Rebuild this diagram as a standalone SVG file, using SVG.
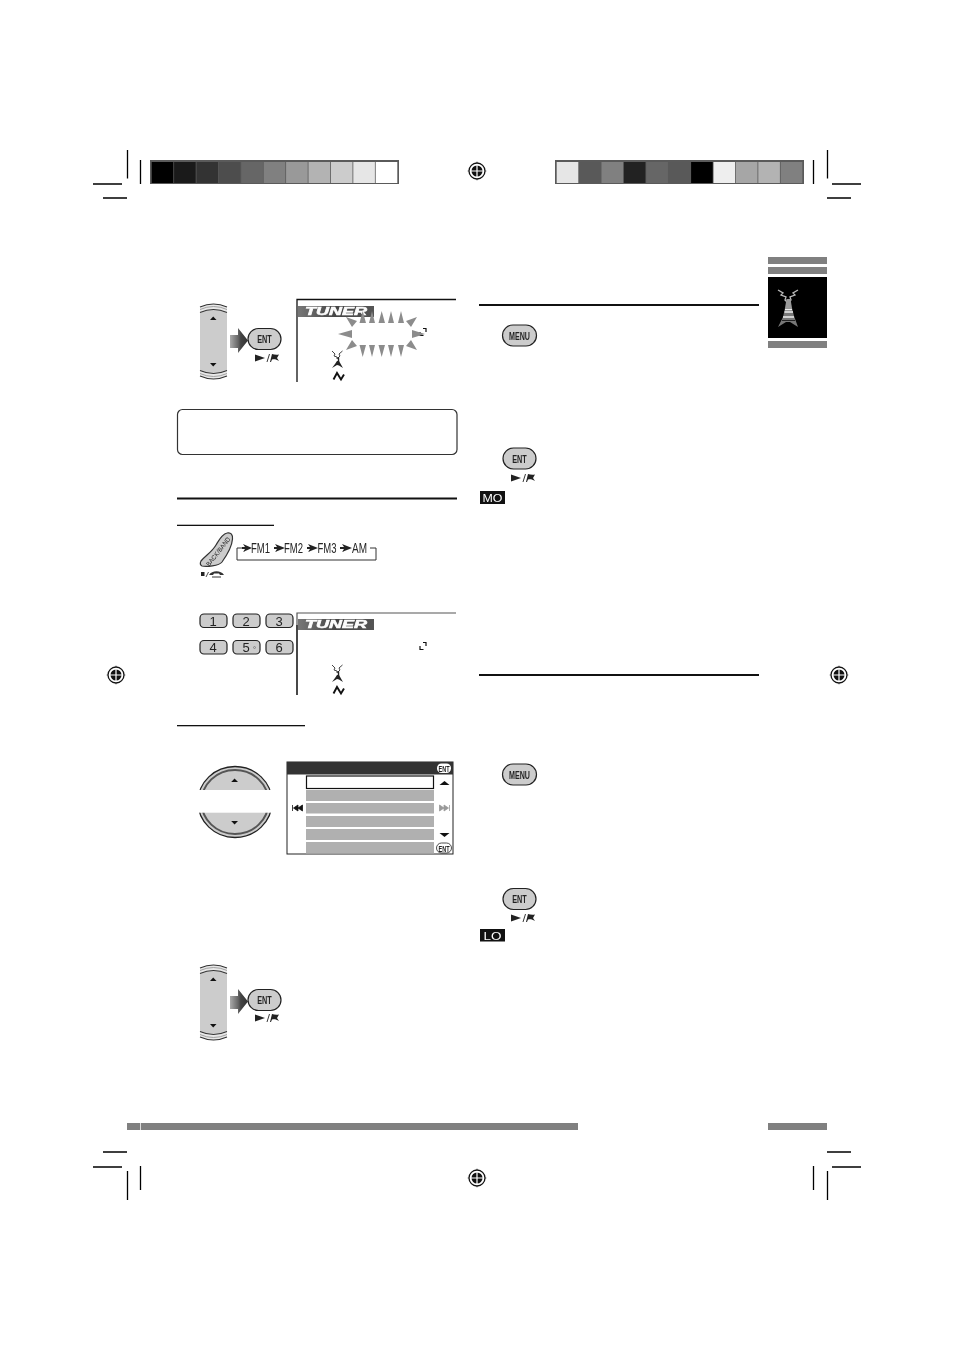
<svg xmlns="http://www.w3.org/2000/svg" xmlns:xlink="http://www.w3.org/1999/xlink" width="954" height="1350" viewBox="0 0 954 1350">
<style>
text{opacity:.99}
.k{stroke:#000;stroke-width:1.3;fill:none}
.bar{fill:#808080}
.t{font-family:"Liberation Sans",Arial,sans-serif;text-anchor:middle}
.b{font-weight:bold}
.key{fill:#ccc;stroke:#222;stroke-width:1.2}
.num{font-size:13px;fill:#222}
.flow{font-size:14.500px;fill:#222}
.tri{fill:#8c8c8c}
.row{fill:#b0b0b0}
</style>
<defs>
<linearGradient id="ag" x1="0" x2="1" y1="0" y2="0"><stop offset="0" stop-color="#aaa"/><stop offset="0.45" stop-color="#666"/><stop offset="0.6" stop-color="#444"/><stop offset="1" stop-color="#333"/></linearGradient>
<linearGradient id="tg" x1="0" x2="1" y1="0" y2="0"><stop offset="0" stop-color="#777"/><stop offset="0.5" stop-color="#444"/><stop offset="1" stop-color="#555"/></linearGradient>
<filter id="soft" x="-10%" y="-10%" width="120%" height="120%"><feGaussianBlur stdDeviation="0.5"/></filter>
<g id="reg">
<path d="M-9.500 0H9.500M0-9.500V9.500" stroke="#999" stroke-width="1"/>
<circle r="8" fill="#fff" stroke="#111" stroke-width="1.300"/>
<circle r="5.500" fill="#111"/>
<path d="M-6 0H6M0-6V6" stroke="#fff" stroke-width="1.200"/>
</g>
<g id="entkey">
<rect x="-16.500" y="-10.500" width="33" height="21" rx="10.500" fill="#ccc" stroke="#222" stroke-width="1.200"/>
<text class="t b" y="4" font-size="10.500" fill="#222" textLength="14.500" lengthAdjust="spacingAndGlyphs">ENT</text>
</g>
<g id="menukey">
<rect x="-17" y="-10.500" width="34" height="21" rx="10.500" fill="#ccc" stroke="#222" stroke-width="1.200"/>
<text class="t b" y="4" font-size="10.500" fill="#222" textLength="21" lengthAdjust="spacingAndGlyphs">MENU</text>
</g>
<g id="playflag" fill="#222">
<path d="M-9-3.500L1 0-9 3.500Z"/>
<path d="M3 4L5.500-4" stroke="#222" stroke-width="0.900"/>
<path d="M6 4L8-4C10-3.500 12-3 15-3.500L13 0 15 3C12 1 10 1 8 1.500L7 4Z"/>
</g>
<g id="rocker">
<rect x="200" y="307" width="27" height="69" fill="#ccc"/>
<path d="M200 307Q213.500 301 227 307V313Q213.500 307 200 313Z" fill="#e8e8e8"/>
<path d="M200 370Q213.500 376 227 370V376Q213.500 382 200 376Z" fill="#e8e8e8"/>
<path d="M200 307Q213.500 301 227 307M200 312.500Q213.500 306.500 227 312.500M200 376Q213.500 382 227 376M200 370.500Q213.500 376.500 227 370.500" fill="none" stroke="#333" stroke-width="1.100"/>
<path d="M200 309.500Q213.500 303.500 227 309.500M200 373.500Q213.500 379.500 227 373.500" fill="none" stroke="#999" stroke-width="0.900"/>
<path d="M210 320H216.500L213.200 316.500Z" fill="#111"/>
<path d="M210 363H216.500L213.200 366.500Z" fill="#111"/>
<path d="M230 335H238V328L248 340.500 238 353V348H230Z" fill="url(#ag)"/>
</g>
<g id="dispicons">
<path d="M332 351L335 354 334 356 337 357M342.500 351L339 354 340 356 338 358" fill="none" stroke="#444" stroke-width="1"/>
<path d="M336.500 358H338.500V362" stroke="#222" stroke-width="1.400" fill="none"/>
<path d="M337 361L339 361 343 368 339 365.500 337 365 332 368 335 364Z" fill="#222"/>
<path d="M333.500 379.500L337 373 341 379.500 344 374.500" fill="none" stroke="#111" stroke-width="1.900"/>
<path d="M420 332V335.500H423.500M423 328.500H426V332" fill="none" stroke="#111" stroke-width="1.200"/>
</g>
<g id="badge">
<rect x="298" y="306" width="76" height="11" fill="url(#tg)"/>
<text x="336" y="315" class="t b" font-size="10" fill="#fff" font-style="italic" textLength="62" lengthAdjust="spacingAndGlyphs" stroke="#fff" stroke-width="0.500">TUNER</text>
</g>
</defs>

<g id="print-marks">
<g class="k">
<path d="M127.500 150V178.500M140.500 160V184M93 184H122M103 198H127"/>
<path d="M813.500 160V184M827.500 150V178.500M832 184H861M827 198H851"/>
<path d="M103 1152H127M93 1167H122M140.500 1166V1190M127.500 1171V1200"/>
<path d="M827 1152H851M832 1167H861M813.500 1166V1190M827.500 1171V1200"/>
</g>
<use xlink:href="#reg" href="#reg" x="477" y="171"/>
<use xlink:href="#reg" href="#reg" x="477" y="1178"/>
<use xlink:href="#reg" href="#reg" x="116" y="675"/>
<use xlink:href="#reg" href="#reg" x="839" y="675"/>
</g>

<g id="colour-bar-left">
<rect x="150" y="160" width="249" height="24" fill="#5a5a5a"/>
<g>
<rect x="151.700" y="162" width="21.600" height="21" fill="#000"/>
<rect x="174.100" y="162" width="21.600" height="21" fill="#1a1a1a"/>
<rect x="196.500" y="162" width="21.600" height="21" fill="#333"/>
<rect x="218.900" y="162" width="21.600" height="21" fill="#4d4d4d"/>
<rect x="241.300" y="162" width="21.600" height="21" fill="#666"/>
<rect x="263.700" y="162" width="21.600" height="21" fill="#808080"/>
<rect x="286.100" y="162" width="21.600" height="21" fill="#999"/>
<rect x="308.500" y="162" width="21.600" height="21" fill="#b3b3b3"/>
<rect x="330.900" y="162" width="21.600" height="21" fill="#ccc"/>
<rect x="353.300" y="162" width="21.600" height="21" fill="#e6e6e6"/>
<rect x="375.700" y="162" width="21.600" height="21" fill="#fff"/>
</g>
</g>
<g id="colour-bar-right">
<rect x="555" y="160" width="249" height="24" fill="#5a5a5a"/>
<g>
<rect x="556.700" y="162" width="21.600" height="21" fill="#e6e6e6"/>
<rect x="579.100" y="162" width="21.600" height="21" fill="#595959"/>
<rect x="601.500" y="162" width="21.600" height="21" fill="#808080"/>
<rect x="623.900" y="162" width="21.600" height="21" fill="#222"/>
<rect x="646.300" y="162" width="21.600" height="21" fill="#666"/>
<rect x="668.700" y="162" width="21.600" height="21" fill="#595959"/>
<rect x="691.100" y="162" width="21.600" height="21" fill="#000"/>
<rect x="713.500" y="162" width="21.600" height="21" fill="#eee"/>
<rect x="735.900" y="162" width="21.600" height="21" fill="#a6a6a6"/>
<rect x="758.300" y="162" width="21.600" height="21" fill="#b3b3b3"/>
<rect x="780.700" y="162" width="21.600" height="21" fill="#808080"/>
</g>
</g>

<g id="tab">
<rect class="bar" x="768" y="257" width="59" height="7"/>
<rect class="bar" x="768" y="267" width="59" height="7"/>
<rect x="768" y="277" width="59" height="61" fill="#000"/>
<rect class="bar" x="768" y="341" width="59" height="7"/>
<g filter="url(#soft)">
<path d="M778 290L783 293 781 295 786 297 785 300 788 303M798 290L793 293 795 295 790 297 791 300 789 303" fill="none" stroke="#bbb" stroke-width="1.300"/>
<path d="M786.500 299H790.500L792 308H785Z" fill="#999"/>
<path d="M785 308H792L794 316 798 327 790 322 786 322 778 327 783 317Z" fill="#777"/>
<path d="M785 309.500H792M784.500 312H793M783 317H794" stroke="#eee" stroke-width="1.300"/>
<path d="M782 320.500H795" stroke="#222" stroke-width="1"/>
</g>
</g>

<g id="step-1-rocker"><use xlink:href="#rocker" href="#rocker"/></g>
<g id="step-1-ent">
<use xlink:href="#entkey" href="#entkey" x="264.500" y="339"/>
<use xlink:href="#playflag" href="#playflag" x="264" y="358"/>
</g>
<g id="display-1">
<path d="M297 382V299.500H456" fill="none" stroke="#111" stroke-width="1.300"/>
<use xlink:href="#dispicons" href="#dispicons"/>
<use xlink:href="#badge" href="#badge"/>
<g class="tri">
<path d="M359.500 323L362.700 311 366 323ZM369 323L372 311 375 323ZM378.500 323L381.700 311 385 323ZM388 323L391 311 394 323ZM398 323L401 311 404 323Z"/>
<path d="M359.500 345L362.700 357 366 345ZM369 345L372 357 375 345ZM378.500 345L381.700 357 385 345ZM388 345L391 357 394 345ZM398 345L401 357 404 345Z"/>
<path d="M338 334L352 330V338ZM425 334L412 330V338Z"/>
<path d="M346 317L357 321 352 327ZM417 317L406 321 411 327ZM346 350L352 340 357 346ZM417 350L411 340 406 346Z"/>
</g>
</g>

<g id="note-box"><rect x="177.500" y="409.500" width="279.500" height="45" rx="5" fill="#fff" stroke="#333" stroke-width="1.200"/></g>

<g id="rules">
<rect x="177" y="497.500" width="280" height="2" fill="#111"/>
<rect x="177" y="524.700" width="97" height="1.300" fill="#111"/>
<rect x="177" y="725" width="128" height="1.300" fill="#111"/>
<rect x="479" y="304" width="280" height="2" fill="#111"/>
<rect x="479" y="674" width="280" height="2" fill="#111"/>
</g>

<g id="backband-key">
<path d="M201 561C206 555 212 552 216 545 219 540 222 534 227 533 231 532 233 535 232.500 539 232 546 227 555 222 562 219 566 206 567 202 566 200 565 200 563 201 561Z" fill="#ccc" stroke="#333" stroke-width="1.200"/>
<text transform="translate(220 553) rotate(-52)" class="t" font-size="6.500" fill="#222" textLength="35" lengthAdjust="spacingAndGlyphs">BACK/BAND</text>
<rect x="201" y="572" width="3.500" height="4" fill="#222"/>
<path d="M206 577L208.500 572" stroke="#222" stroke-width="0.800"/>
<path d="M209 575C212 570 221 570 224 575H220L219 573.500H214L213 575Z" fill="#333"/>
<path d="M212 577H221" stroke="#333" stroke-width="1"/>
</g>

<g id="connectors">
<path d="M376 548H370M376 548V560H237V548H242" fill="none" stroke="#333" stroke-width="1"/>
<path d="M242 547H245L243 544 252 548 243 552 245 549H242ZM274 547H277L275 544 285 548 275 552 277 549H274ZM307 547H310L308 544 318 548 308 552 310 549H307ZM340 547H344L342 544 352 548 342 552 344 549H340Z" fill="#222"/>
</g>
<g id="band-labels">
<text x="260.500" y="553" class="t flow" textLength="19" lengthAdjust="spacingAndGlyphs">FM1</text>
<text x="293.500" y="553" class="t flow" textLength="19" lengthAdjust="spacingAndGlyphs">FM2</text>
<text x="327" y="553" class="t flow" textLength="19" lengthAdjust="spacingAndGlyphs">FM3</text>
<text x="359.500" y="553" class="t flow" textLength="15" lengthAdjust="spacingAndGlyphs">AM</text>
</g>

<g id="preset-keys">
<rect class="key" x="200" y="614" width="27" height="13.500" rx="4"/>
<rect class="key" x="233" y="614" width="27" height="13.500" rx="4"/>
<rect class="key" x="266" y="614" width="27" height="13.500" rx="4"/>
<rect class="key" x="200" y="640.500" width="27" height="13.500" rx="4"/>
<rect class="key" x="233" y="640.500" width="27" height="13.500" rx="4"/>
<rect class="key" x="266" y="640.500" width="27" height="13.500" rx="4"/>
<text class="t num" x="213" y="625.500">1</text>
<text class="t num" x="246" y="625.500">2</text>
<text class="t num" x="279" y="625.500">3</text>
<text class="t num" x="213" y="652">4</text>
<text class="t num" x="246" y="652">5</text>
<text class="t num" x="279" y="652">6</text>
<circle cx="254.500" cy="647.500" r="1" fill="none" stroke="#666" stroke-width="0.600"/>
</g>

<g id="display-2">
<path d="M297 695V613H456" fill="none" stroke="#555" stroke-width="1.200"/>
<path d="M297 695V625" fill="none" stroke="#111" stroke-width="1.200"/>
<g transform="translate(0 314)"><use xlink:href="#dispicons" href="#dispicons"/></g>
<g transform="translate(0 313)"><use xlink:href="#badge" href="#badge"/></g>
</g>

<g id="dial">
<ellipse cx="235" cy="802" rx="37" ry="35.500" fill="#ccc" stroke="#222" stroke-width="1.300"/>
<ellipse cx="235" cy="802" rx="33.500" ry="32" fill="none" stroke="#555" stroke-width="2"/>
<rect x="195" y="790" width="80" height="22.700" fill="#fff"/>
<path d="M231.200 782H238L234.600 778.500Z" fill="#111"/>
<path d="M231.200 821H238L234.600 824.500Z" fill="#111"/>
</g>

<g id="menu-screen">
<rect x="287" y="762" width="166" height="92" fill="#fff" stroke="#222" stroke-width="1"/>
<rect x="287" y="762" width="166" height="12.500" fill="#333"/>
<rect x="306.500" y="776" width="127" height="12.500" fill="#fff" stroke="#111" stroke-width="1.200"/>
<rect class="row" x="306" y="790" width="128" height="11"/>
<rect class="row" x="306" y="803" width="128" height="10.500"/>
<rect class="row" x="306" y="816" width="128" height="11"/>
<rect class="row" x="306" y="829" width="128" height="11"/>
<rect class="row" x="306" y="842" width="128" height="11.500"/>
<path d="M292.500 805V811M298 805L293.500 808 298 811ZM302.500 805L298 808 302.500 811Z" fill="#111" stroke="#111" stroke-width="0.800"/>
<path d="M449.500 805V811M444 805L448.500 808 444 811ZM439.500 805L444 808 439.500 811Z" fill="#999" stroke="#999" stroke-width="0.800"/>
<path d="M439.500 785H449.500L444.500 781Z" fill="#111"/>
<path d="M439.500 833H449.500L444.500 837Z" fill="#111"/>
<rect x="437" y="763.500" width="14" height="9.500" rx="4.500" fill="#fff"/>
<text class="t b" x="444" y="771.500" font-size="8.500" fill="#222" textLength="11" lengthAdjust="spacingAndGlyphs">ENT</text>
<rect x="436.500" y="843" width="15" height="10" rx="5" fill="#fff" stroke="#222" stroke-width="0.800"/>
<text class="t b" x="444" y="851.500" font-size="8.500" fill="#222" textLength="11" lengthAdjust="spacingAndGlyphs">ENT</text>
</g>

<g id="step-2-rocker"><g transform="translate(0 661)"><use xlink:href="#rocker" href="#rocker"/></g></g>
<g id="step-2-ent">
<use xlink:href="#entkey" href="#entkey" x="264.500" y="1000"/>
<use xlink:href="#playflag" href="#playflag" x="264" y="1018"/>
</g>

<g id="right-menu-1"><use xlink:href="#menukey" href="#menukey" x="519.500" y="335.500"/></g>
<g id="right-ent-1">
<use xlink:href="#entkey" href="#entkey" x="519.500" y="458.500"/>
<use xlink:href="#playflag" href="#playflag" x="520" y="478"/>
</g>
<g id="badge-mo">
<rect x="480" y="491" width="25" height="13" fill="#111"/>
<text class="t" x="492.500" y="501.500" font-size="11" fill="#fff" textLength="20" lengthAdjust="spacingAndGlyphs">MO</text>
</g>
<g id="right-menu-2"><use xlink:href="#menukey" href="#menukey" x="519.500" y="774.500"/></g>
<g id="right-ent-2">
<use xlink:href="#entkey" href="#entkey" x="519.500" y="899"/>
<use xlink:href="#playflag" href="#playflag" x="520" y="918"/>
</g>
<g id="badge-lo">
<rect x="480" y="929" width="25" height="12.500" fill="#111"/>
<text class="t" x="492.500" y="939.500" font-size="11" fill="#fff" textLength="18" lengthAdjust="spacingAndGlyphs">LO</text>
</g>

<g id="footer">
<rect class="bar" x="127" y="1123" width="451" height="7"/>
<rect x="140" y="1123" width="1" height="7" fill="#ddd"/>
<rect class="bar" x="768" y="1123" width="59" height="7"/>
</g>
</svg>
